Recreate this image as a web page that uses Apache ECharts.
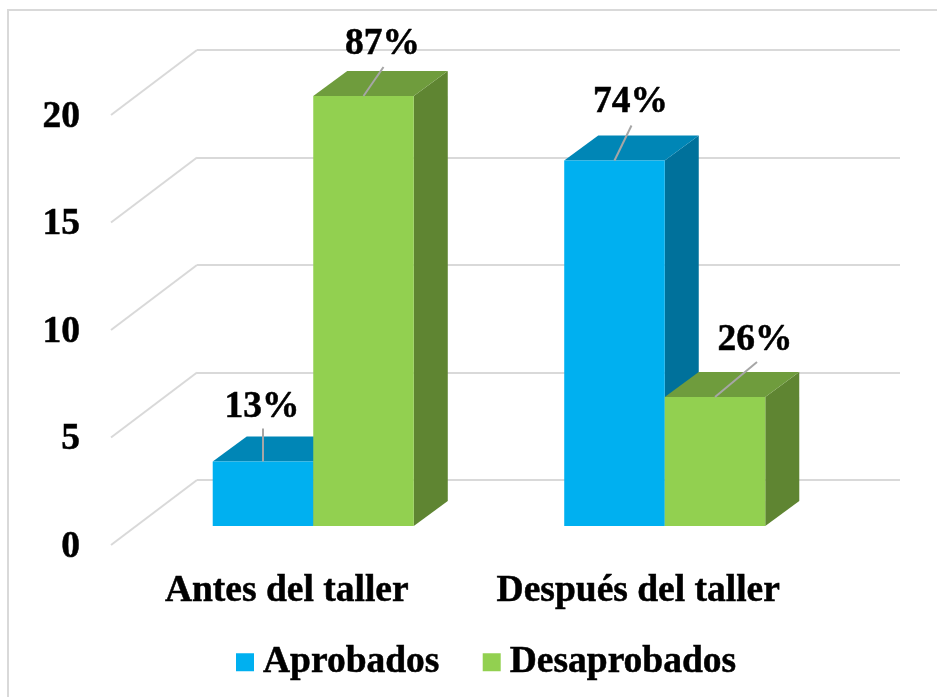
<!DOCTYPE html>
<html>
<head>
<meta charset="utf-8">
<style>
  html, body { margin: 0; padding: 0; background: #fff; }
  #chart { width: 937px; height: 697px; }
</style>
<script src="https://cdn.jsdelivr.net/npm/echarts@6/dist/echarts.min.js"></script>
</head>
<body>
<div id="chart"></div>
<script>
const categories = ['Antes del taller', 'Después del taller'];
const aprobados = [3, 17];
const desaprobados = [20, 6];
const aprobadosPct = ['13%', '74%'];
const desaprobadosPct = ['87%', '26%'];
const yTicks = [0, 5, 10, 15, 20];

// la profundidad del falso 3D
const barDepth = [34, -25];
const wallDepth = [86, -65];
const barRatio = 0.286;
const font = 'Liberation Serif';
const fontSize = 37.5;
const textWeight = { fontFamily: font, fontWeight: 'bold', fontSize: fontSize, color: '#000', textBorderColor: '#000', textBorderWidth: 0.5 };

// donde cae cada etiqueta y su linea guia, respecto al frente de la barra
const aprobadosLabel = [{ line: [0, -33], text: [-1, -54] }, { line: [17, -35], text: [16, -58] }];
const desaprobadosLabel = [{ line: [20, -29], text: [19, -52] }, { line: [42, -35], text: [40, -57] }];

function bar3d(side, pct, labelPos, top, right) {
  return function (params, api) {
    const i = api.value(0);
    const p = api.coord([i, api.value(1)]);
    const base = api.coord([i, 0]);
    const w = api.size([1, 0])[0] * barRatio;
    const x0 = side < 0 ? p[0] - w : p[0];
    const x1 = x0 + w;
    const dx = barDepth[0], dy = barDepth[1];
    const cx = (x0 + x1) / 2;
    const pos = labelPos[i];
    return {
      type: 'group',
      children: [
        { type: 'polygon', shape: { points: [[x1, p[1]], [x1 + dx, p[1] + dy], [x1 + dx, base[1] + dy], [x1, base[1]]] }, style: { fill: right } },
        { type: 'polygon', shape: { points: [[x0, p[1]], [x0 + dx, p[1] + dy], [x1 + dx, p[1] + dy], [x1, p[1]]] }, style: { fill: top } },
        { type: 'rect', shape: { x: x0, y: p[1], width: w, height: base[1] - p[1] }, style: { fill: api.visual('color') } },
        { type: 'line', shape: { x1: cx, y1: p[1], x2: cx + pos.line[0], y2: p[1] + pos.line[1] }, style: { stroke: '#a6a6a6', lineWidth: 2 } },
        { type: 'text', x: cx + pos.text[0], y: p[1] + pos.text[1], style: { text: pct[i], font: 'bold ' + fontSize + 'px "' + font + '"', fill: '#000', stroke: '#000', lineWidth: 0.5, align: 'center', verticalAlign: 'middle' } }
      ]
    };
  };
}

function toPairs(values) {
  return values.map(function (v, i) { return [i, v]; });
}

const chart = echarts.init(document.getElementById('chart'));
chart.setOption({
  animation: false,
  backgroundColor: '#fff',
  graphic: [{
    // el marco solo se ve arriba y a la izquierda
    type: 'polyline', z: -1,
    shape: { points: [[8, 697], [8, 10], [937, 10]] },
    style: { fill: 'none', stroke: '#d9d9d9', lineWidth: 2 }
  }],
  legend: {
    left: 231, top: 638,
    itemWidth: 18, itemHeight: 18, itemGap: 43,
    icon: 'rect',
    textStyle: Object.assign({ padding: [0, 0, 0, 4] }, textWeight),
    data: ['Aprobados', 'Desaprobados']
  },
  grid: [
    { left: 137.5, top: 96, width: 703, height: 430 },  // plano de las barras
    { left: 197, top: 50, width: 703, height: 430 },  // pared del fondo
    { left: 111, top: 115, width: 703, height: 430 },  // plano frontal
    { left: 111, top: 117, width: 703, height: 430 }   // solo para los numeros del eje
  ],
  xAxis: [
    { gridIndex: 0, type: 'category', data: categories, show: false },
    { gridIndex: 1, type: 'category', data: categories, show: false },
    {
      gridIndex: 2, type: 'category', data: categories,
      axisLine: { show: false }, axisTick: { show: false },
      axisLabel: Object.assign({ interval: 0, margin: 27 }, textWeight)
    },
    { gridIndex: 3, type: 'category', data: categories, show: false }
  ],
  yAxis: [
    { gridIndex: 0, type: 'value', min: 0, max: 20, interval: 5, show: false },
    {
      gridIndex: 1, type: 'value', min: 0, max: 20, interval: 5,
      axisLine: { show: false }, axisTick: { show: false }, axisLabel: { show: false },
      splitLine: { show: true, lineStyle: { color: '#d9d9d9', width: 2 } }
    },
    { gridIndex: 2, type: 'value', min: 0, max: 20, interval: 5, show: false },
    {
      gridIndex: 3, type: 'value', min: 0, max: 20, interval: 5,
      axisLine: { show: false }, axisTick: { show: false }, splitLine: { show: false },
      axisLabel: Object.assign({ margin: 31 }, textWeight)
    }
  ],
  series: [
    {
      // lineas oblicuas de la pared lateral
      type: 'custom', xAxisIndex: 2, yAxisIndex: 2, z: 1, silent: true,
      data: yTicks.map(function (t) { return [0, t]; }),
      renderItem: function (params, api) {
        const y = api.coord([0, api.value(1)])[1];
        const x = params.coordSys.x;
        return {
          type: 'line',
          shape: { x1: x, y1: y, x2: x + wallDepth[0], y2: y + wallDepth[1] },
          style: { stroke: '#d9d9d9', lineWidth: 2 }
        };
      }
    },
    {
      name: 'Aprobados', type: 'custom', xAxisIndex: 0, yAxisIndex: 0, z: 3,
      itemStyle: { color: '#00b0f0' },
      data: toPairs(aprobados),
      renderItem: bar3d(-1, aprobadosPct, aprobadosLabel, '#0086b6', '#00719b')
    },
    {
      name: 'Desaprobados', type: 'custom', xAxisIndex: 0, yAxisIndex: 0, z: 4,
      itemStyle: { color: '#92d050' },
      data: toPairs(desaprobados),
      renderItem: bar3d(1, desaprobadosPct, desaprobadosLabel, '#6f9c3d', '#5f8532')
    }
  ]
});
</script>
</body>
</html>
